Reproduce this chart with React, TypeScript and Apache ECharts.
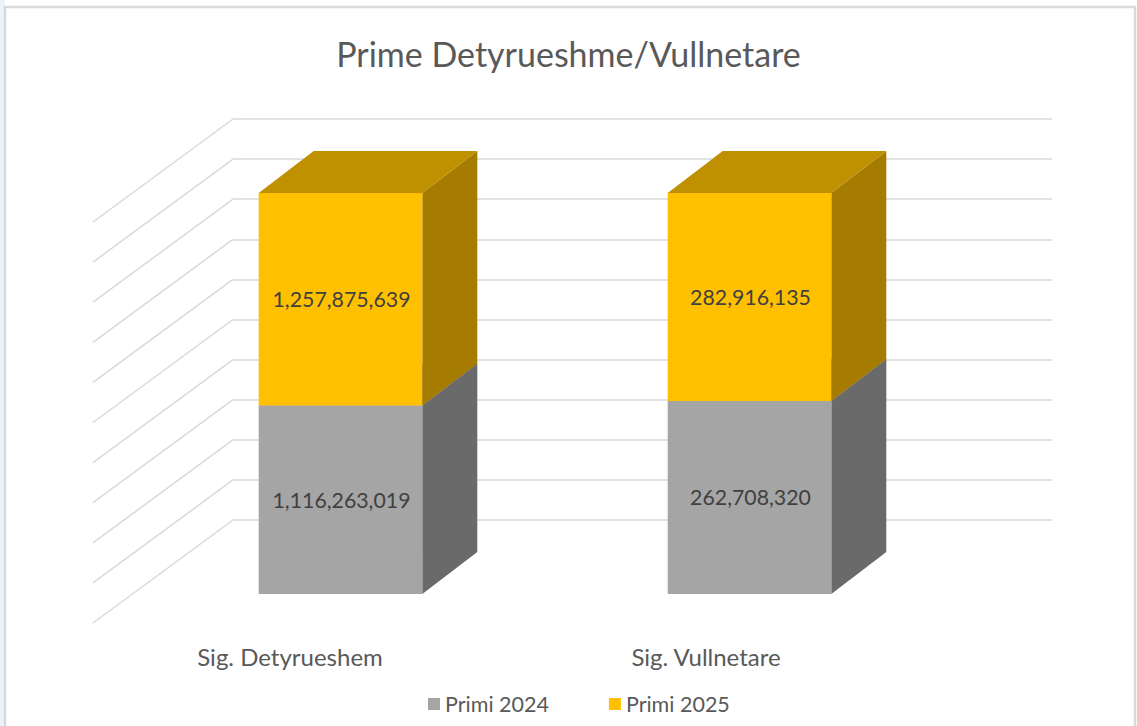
import React, { useEffect, useRef } from "react";
import * as echarts from "echarts";

// ---- data ----
const categories = ["Sig. Detyrueshem", "Sig. Vullnetare"];
const seriesNames = ["Primi 2024", "Primi 2025"];
const primi2024 = [1116263019, 262708320];
const primi2025 = [1257875639, 282916135];
const percentTicks = [0, 10, 20, 30, 40, 50, 60, 70, 80, 90, 100];
const titleText = "Prime Detyrueshme/Vullnetare";

// ---- styles ----
const frontColors = ["#a5a5a5", "#ffc000"];
const sideColors = ["#6a6a6a", "#a67c00"];
const topColors = ["#7c7c7c", "#bf9000"];
const gridColor = "#d9d9d9";
const FONT = "Lato";
const DEPTH_X = 55;
const DEPTH_Y = -42;

export default function App() {
  const ref = useRef<HTMLDivElement>(null);

  useEffect(() => {
    if (!ref.current) return;
    const chart = echarts.init(ref.current, null, { renderer: "svg" });

    const raw = [primi2024, primi2025];
    const totals = categories.map((_, i) => primi2024[i] + primi2025[i]);
    const stacked = raw.map((vals, s) =>
      vals.map((v, i) => {
        let start = 0;
        for (let k = 0; k < s; k++) start += raw[k][i];
        return [i, (start / totals[i]) * 100, ((start + v) / totals[i]) * 100, v];
      })
    );

    const makeRender = (s: number) => (params: any, api: any) => {
      const cat = api.value(0);
      const y0 = api.value(1);
      const y1 = api.value(2);
      const v = api.value(3);
      const pb = api.coord([cat, y0]);
      const pt = api.coord([cat, y1]);
      const bw = api.size([1, 0])[0] * 0.4;
      const xl = pb[0] - bw / 2;
      const xr = pb[0] + bw / 2;
      const yb = pb[1];
      const yt = pt[1];
      return {
        type: "group",
        children: [
          {
            type: "polygon",
            shape: { points: [[xr, yb], [xr + DEPTH_X, yb + DEPTH_Y], [xr + DEPTH_X, yt + DEPTH_Y], [xr, yt]] },
            style: { fill: sideColors[s] },
          },
          {
            type: "polygon",
            shape: { points: [[xl, yt], [xr, yt], [xr + DEPTH_X, yt + DEPTH_Y], [xl + DEPTH_X, yt + DEPTH_Y]] },
            style: { fill: topColors[s] },
          },
          {
            type: "rect",
            shape: { x: xl, y: yt, width: bw, height: yb - yt },
            style: { fill: frontColors[s] },
          },
          {
            type: "text",
            x: pb[0] + 1,
            y: (yb + yt) / 2,
            style: {
              text: Number(v).toLocaleString("en-US"),
              fill: "#404040",
              font: `21.3px ${FONT}`,
              align: "center",
              verticalAlign: "middle",
            },
          },
        ],
      };
    };

    const option: any = {
      animation: false,
      backgroundColor: "#ffffff",
      color: frontColors,
      title: {
        text: titleText,
        left: "center",
        top: 31,
        textStyle: { fontFamily: FONT, fontSize: 34, fontWeight: "normal", color: "#595959" },
      },
      legend: {
        data: seriesNames,
        left: 428,
        top: 693,
        padding: 0,
        icon: "rect",
        itemWidth: 12,
        itemHeight: 12,
        itemGap: 60,
        textStyle: { fontFamily: FONT, fontSize: 21.5, color: "#595959" },
      },
      graphic: [
        { type: "rect", z: -10, shape: { x: 0, y: 0, width: 5, height: 726 }, style: { fill: "#edf3fb" } },
        {
          type: "rect",
          z: -9,
          shape: { x: 5, y: 7, width: 1130, height: 730 },
          style: { fill: "#ffffff", stroke: "#d9d9d9", lineWidth: 2.5 },
        },
      ],
      grid: [
        { left: 233, top: 119, width: 819, height: 401 },
        { left: 136, top: 193, width: 818, height: 401 },
        { left: 82, top: 193, width: 832, height: 401 },
      ],
      xAxis: [
        { type: "value", gridIndex: 0, min: 0, max: 1, show: false },
        { type: "category", gridIndex: 1, data: categories, show: false },
        {
          type: "category",
          gridIndex: 2,
          data: categories,
          axisLine: { show: false },
          axisTick: { show: false },
          axisLabel: { margin: 50, fontFamily: FONT, fontSize: 24, color: "#595959" },
        },
      ],
      yAxis: [
        {
          type: "value",
          gridIndex: 0,
          min: 0,
          max: 100,
          interval: 10,
          axisLine: { show: false },
          axisTick: { show: false },
          axisLabel: { show: false },
          splitLine: { show: true, lineStyle: { color: gridColor, width: 1.5 } },
        },
        { type: "value", gridIndex: 1, min: 0, max: 100, show: false },
        { type: "value", gridIndex: 2, min: 0, max: 100, show: false },
      ],
      series: [
        {
          type: "custom",
          name: "wall",
          xAxisIndex: 0,
          yAxisIndex: 0,
          silent: true,
          data: percentTicks.map((t) => [0, t]),
          encode: { x: 0, y: 1 },
          renderItem: (params: any, api: any) => {
            const p = api.coord([0, api.value(1)]);
            return {
              type: "line",
              shape: { x1: p[0], y1: p[1], x2: p[0] - 140, y2: p[1] + 103 },
              style: { stroke: gridColor, lineWidth: 1.5 },
            };
          },
        },
        ...seriesNames.map((name, s) => ({
          type: "custom",
          name,
          xAxisIndex: 1,
          yAxisIndex: 1,
          itemStyle: { color: frontColors[s] },
          data: stacked[s],
          encode: { x: 0, y: [1, 2] },
          renderItem: makeRender(s),
        })),
      ],
    };

    chart.setOption(option);
    return () => chart.dispose();
  }, []);

  return (
    <div
      ref={ref}
      style={{ position: "fixed", left: 0, top: 0, width: 1137, height: 726 }}
    />
  );
}
